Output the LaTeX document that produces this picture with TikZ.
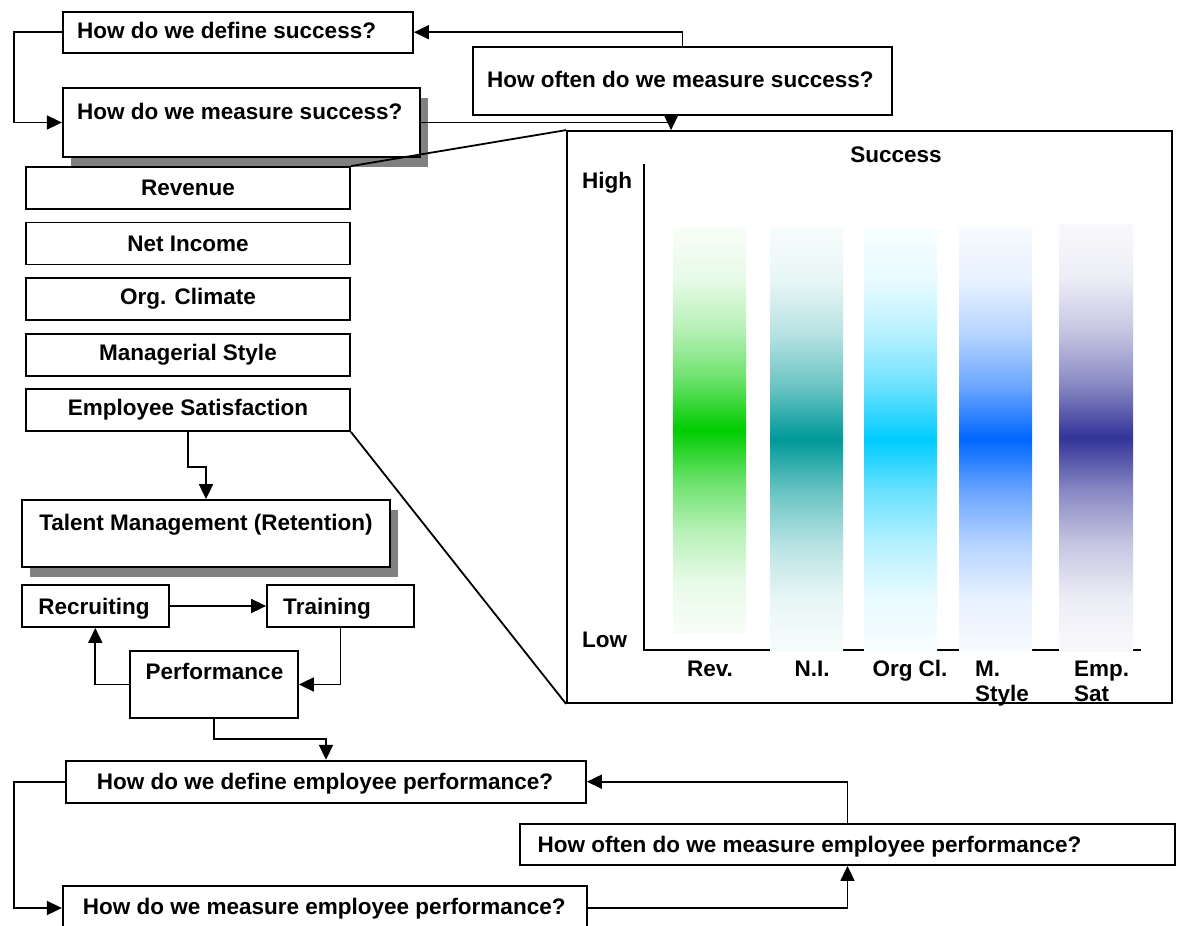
\documentclass[tikz,border=0pt]{standalone}
\usepackage{fontspec}
\setmainfont{Liberation Sans}
\usetikzlibrary{arrows.meta,shadows}
\definecolor{cRev}{HTML}{00CC00}
\definecolor{cNI}{HTML}{009999}
\definecolor{cOrg}{HTML}{00CCFF}
\definecolor{cMS}{HTML}{0066FF}
\definecolor{cEmp}{HTML}{333399}
\definecolor{shadowgray}{HTML}{808080}
\newcommand\mkbarshade[2]{%
 \pgfdeclareverticalshading{#1}{100bp}{color(0bp)=(white); color(25bp)=(#2!3!white);
 color(31.25bp)=(#2!9!white); color(37.5bp)=(#2!28!white); color(43.75bp)=(#2!58!white);
 color(50bp)=(#2); color(56.25bp)=(#2!58!white); color(62.5bp)=(#2!28!white);
 color(68.75bp)=(#2!9!white); color(75bp)=(#2!3!white); color(100bp)=(white)}}
\mkbarshade{shRev}{cRev}
\mkbarshade{shNI}{cNI}
\mkbarshade{shOrg}{cOrg}
\mkbarshade{shMS}{cMS}
\mkbarshade{shEmp}{cEmp}
\begin{document}
\begin{tikzpicture}[x=1pt,y=-1pt,
  fnt/.style={font=\bfseries\fontsize{22.5}{25}\selectfont},
  box/.style={draw=black, line width=1.8pt, fill=white, inner sep=0pt, fnt},
  txt/.style={inner sep=0pt, fnt},
  conn/.style={line width=1.8pt},
  arr/.style={conn, -{Triangle[length=15pt,width=14pt]}},
  shad/.style={drop shadow={shadow xshift=8pt, shadow yshift=-10pt, fill=shadowgray, opacity=1}}]
\useasboundingbox (0,0) rectangle (1181,926);
\fill[white] (0,0) rectangle (1181,926);
\clip (0,0) rectangle (1181,926);

% top question boxes
\node[box, minimum width=350.3pt, minimum height=41pt] (A) at (237.9,32.2) {};
\node[txt, anchor=base west] at (77,38.5) {How do we define success?};
\node[box, minimum width=419pt, minimum height=68pt] (C) at (682.5,81) {};
\node[txt, anchor=base west] at (487,87) {How often do we measure success?};
\node[box, shad, minimum width=357.3pt, minimum height=69pt] (B) at (241.4,122.5) {};
\node[txt, anchor=base west] at (77,119) {How do we measure success?};

% measure boxes
\node[box, minimum width=324pt, minimum height=42pt] (rev) at (188,188) {Revenue};
\node[box, minimum width=324pt, minimum height=42pt] (ni) at (188,243.5) {Net Income};
\node[box, minimum width=324pt, minimum height=42pt] (org) at (188,299) {Org. Climate};
\node[box, minimum width=324pt, minimum height=42pt] (ms) at (188,355) {Managerial Style};
\node[box, minimum width=324pt, minimum height=42pt] (es) at (188,410) {Employee Satisfaction};

% talent management
\node[box, shad, minimum width=368pt, minimum height=67pt] (tal) at (206,533.5) {};
\node[txt, anchor=base] at (206,530) {Talent Management (Retention)};
\node[box, minimum width=146.6pt, minimum height=42pt] (rec) at (95.3,606) {};
\node[txt, anchor=base] at (94,614) {Recruiting};
\node[box, minimum width=147pt, minimum height=42pt] (trn) at (340.5,606) {};
\node[txt, anchor=base] at (327,614) {Training};
\node[box, minimum width=168pt, minimum height=67pt] (perf) at (214,684.5) {};
\node[txt, anchor=base] at (214.5,679) {Performance};

% bottom question boxes
\node[box, minimum width=520pt, minimum height=42pt] (D) at (326,781.7) {};
\node[txt, anchor=base] at (325,789) {How do we define employee performance?};
\node[box, minimum width=655pt, minimum height=41pt] (F) at (847.5,844.5) {};
\node[txt, anchor=base] at (809.5,852) {How often do we measure employee performance?};
\node[box, minimum width=524.3pt, minimum height=44pt] (E) at (324.9,908) {};
\node[txt, anchor=base west] at (82.7,914) {How do we measure employee performance?};

% chart
\node[box, minimum width=605pt, minimum height=572pt] (chart) at (869.5,417) {};
\draw[conn] (644,164) -- (644,650) -- (1141,650);
\shade[shading=shRev] (673,227) rectangle (746,633);
\shade[shading=shNI] (770,227) rectangle (843,651);
\shade[shading=shOrg] (864,227) rectangle (937,651);
\shade[shading=shMS] (959,227) rectangle (1032,651);
\shade[shading=shEmp] (1059,224) rectangle (1133,651);
\node[txt, anchor=base] at (896,162) {Success};
\node[txt, anchor=base west] at (582,188) {High};
\node[txt, anchor=base west] at (582,647) {Low};
\node[txt, anchor=base] at (710,676) {Rev.};
\node[txt, anchor=base] at (812,676) {N.I.};
\node[txt, anchor=base] at (910,676) {Org Cl.};
\node[txt, anchor=base west] at (975,676) {M.};
\node[txt, anchor=base west] at (975,701) {Style};
\node[txt, anchor=base west] at (1074,676) {Emp.};
\node[txt, anchor=base west] at (1074,701) {Sat};

% connectors
\draw[arr] (A.west) -- ++(-48,0) |- (B.west);
\draw[arr] (C.north) |- (A.east);
\draw[arr] (B.east) -| ([xshift=105pt]chart.north west);
\draw[conn] (rev.north east) -- (chart.north west);
\draw[conn] (es.south east) -- (chart.south west);
\draw[arr] (es.south) -- ++(0,35) -| (tal.north);
\draw[arr] (rec.east) -- (trn.west);
\draw[arr] (trn.south) |- (perf.east);
\draw[arr] (perf.west) -| (rec.south);
\draw[arr] (perf.south) -- ++(0,20) -| (D.north);
\draw[arr] (D.west) -- ++(-51,0) |- (E.west);
\draw[arr] (E.east) -| (F.south);
\draw[arr] (F.north) |- (D.east);
\end{tikzpicture}
\end{document}
